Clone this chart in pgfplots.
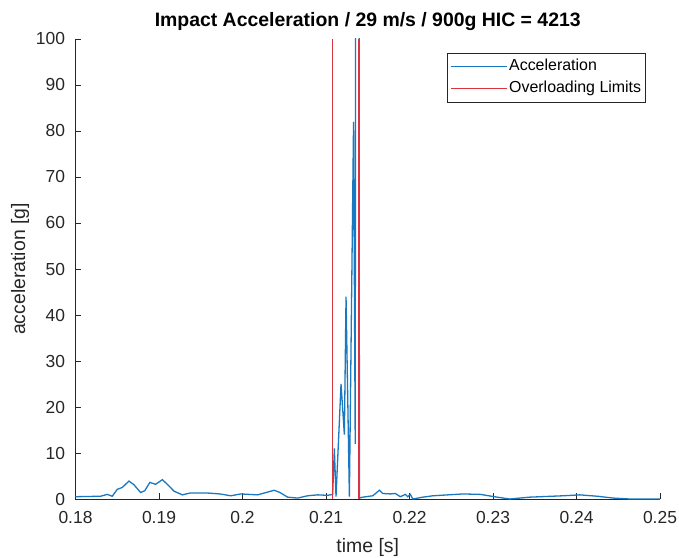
\documentclass[border=0pt]{standalone}
\usepackage{fontspec}
\setmainfont{Liberation Sans}
\usepackage{pgfplots}
\pgfplotsset{compat=1.18}
\definecolor{mblue}{rgb}{0.1,0.47,0.75}
\definecolor{mred}{rgb}{0.86,0.2,0.25}
\definecolor{axgray}{rgb}{0.15,0.15,0.15}
\begin{document}
\begin{tikzpicture}
\path[use as bounding box] (-75.5bp,-59bp) rectangle (603.5bp,499bp);
\begin{axis}[
  scale only axis,
  width=584.5bp, height=460bp,
  xmin=0.18, xmax=0.25, ymin=0, ymax=100,
  xtick={0.18,0.19,0.2,0.21,0.22,0.23,0.24,0.25},
  xticklabels={0.18,0.19,0.2,0.21,0.22,0.23,0.24,0.25},
  ytick={0,10,...,100},
  axis lines*=left,
  axis line style={axgray, line width=0.6bp},
  tick style={axgray, line width=0.6bp},
  tick align=inside,
  major tick length=6bp,
  /pgf/number format/assume math mode=true,
  ticklabel style={font=\fontsize{17.5}{20}\selectfont, text=axgray},
  yticklabel style={xshift=-7bp},
  xticklabel style={yshift=-9bp},
  xlabel={time [s]},
  ylabel={acceleration [g]},
  xlabel style={yshift=-8bp},
  label style={font=\fontsize{19.5}{22}\selectfont, text=axgray},
  title={\bfseries Impact Acceleration / 29 m/s / 900g HIC = 4213},
  title style={font=\fontsize{19.5}{22}\selectfont, yshift=-1bp},
  legend style={at={(0.976,0.97)}, anchor=north east, draw=axgray, line width=0.6bp,
    font=\fontsize{16}{22}\selectfont, inner sep=2.5bp, row sep=0bp,
    nodes={text height=12.5bp, text depth=5.5bp}},
  legend cell align=left,
  legend image code/.code={\draw[#1] (0bp,0bp) -- (56bp,0bp);},
]
\addplot[mblue, line width=1.3bp] coordinates {
(0.1800,0.5) (0.1830,0.6) (0.1838,1.0) (0.1844,0.6) (0.1850,2.1) (0.1856,2.5)
(0.1864,3.9) (0.1870,3.1) (0.1878,1.4) (0.1883,1.8) (0.1889,3.6) (0.1896,3.2)
(0.1904,4.2) (0.1910,3.2) (0.1918,1.7) (0.1928,0.9) (0.1937,1.3) (0.1958,1.3)
(0.1973,1.1) (0.1986,0.7) (0.1998,1.1) (0.2018,0.9) (0.2028,1.4) (0.2038,1.9)
(0.2045,1.4) (0.2054,0.4) (0.2066,0.2) (0.2078,0.7) (0.2090,0.9) (0.2102,0.8)
(0.2108,1.0) (0.2110,11) (0.2112,0.5) (0.2118,25) (0.2122,14) (0.2124,44)
(0.2128,0.5) (0.2133,82) (0.2135,12) (0.21385,800) (0.2140,0.2)
(0.2144,0.4) (0.2156,0.7) (0.2164,1.9) (0.2168,1.2) (0.2177,1.1) (0.2183,1.2)
(0.2189,0.5) (0.2195,1.0) (0.2198,0.5) (0.2201,1.0) (0.2204,0.0) (0.2216,0.4)
(0.2228,0.7) (0.2264,1.1) (0.2285,1.0) (0.2305,0.4) (0.2320,0.0) (0.2344,0.4)
(0.2384,0.7) (0.2404,0.9) (0.2425,0.6) (0.2444,0.2) (0.2464,0.0) (0.2500,0.0)
};
\addlegendentry{Acceleration}
\addplot[mred, line width=1.2bp] coordinates {(0.2108,0) (0.2108,100)};
\addlegendentry{Overloading Limits}
\addplot[mred, line width=1.2bp, forget plot] coordinates {(0.21395,0) (0.21395,100)};
\end{axis}
\end{tikzpicture}
\end{document}
